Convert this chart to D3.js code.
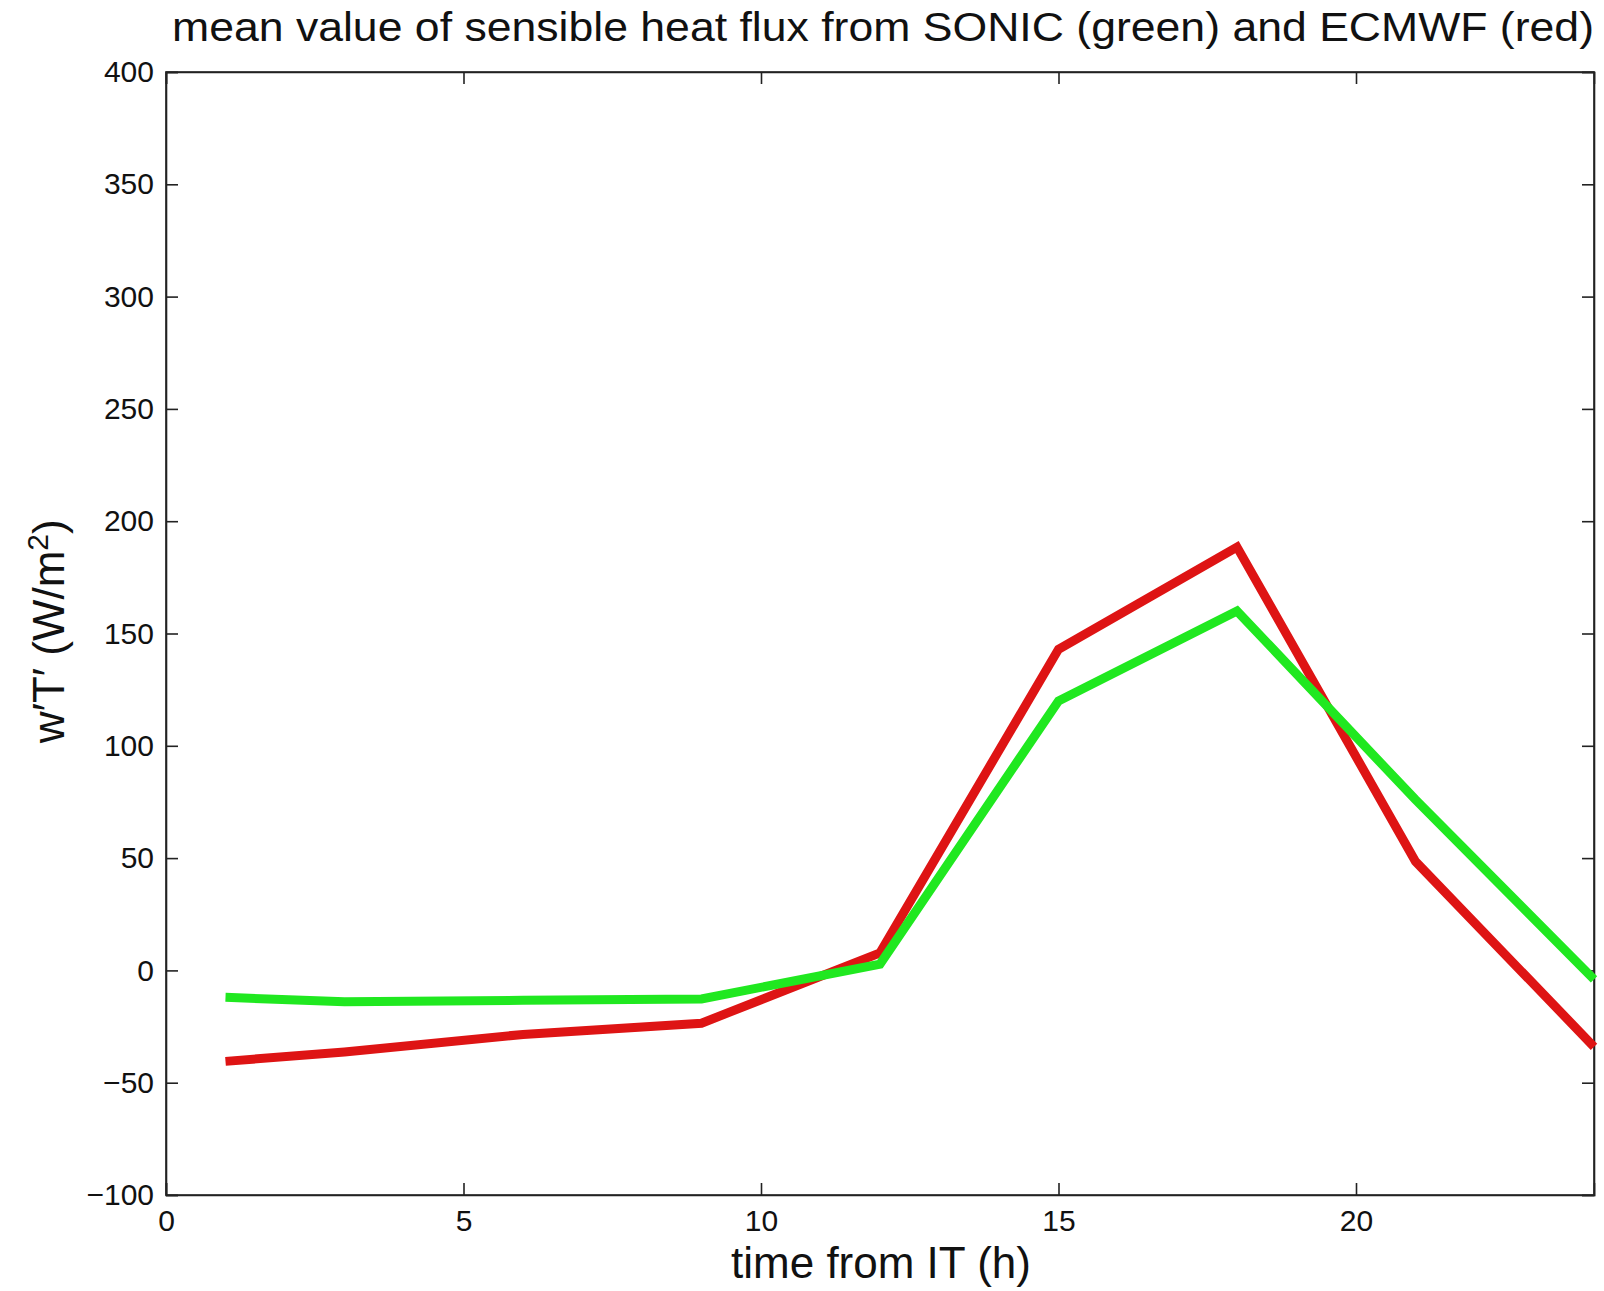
<!DOCTYPE html>
<html lang="en">
<head>
  <meta charset="UTF-8" />
  <title>Sensible heat flux</title>
  <script src="https://d3js.org/d3.v7.min.js"></script>
  <style>
    body { margin: 0; background: #fff; font-family: "Liberation Sans", Arial, sans-serif; }
    .axis text { font-family: "Liberation Sans", Arial, sans-serif; font-size: 30px; fill: #111; }
    .axis path, .axis line { stroke: #222; stroke-width: 1.6; }
  </style>
</head>
<body>
  <svg width="1604" height="1291"></svg>
  <script>
    // hours from initial time
    const hours = [1, 3, 6, 9, 12, 15, 18, 21, 24];
    const sonic = [-12, -14, -13.3, -12.7, 2.8, 120, 160, 76, -4];
    const ecmwf = [-40.5, -36.3, -28.5, -23.5, 7.8, 143, 188.5, 48.5, -34];
    const xTicks = [0, 5, 10, 15, 20];
    const yTicks = [-100, -50, 0, 50, 100, 150, 200, 250, 300, 350, 400];

    const svg = d3.select("svg");
    const margin = { top: 72, right: 10, bottom: 96, left: 166 };
    const width = +svg.attr("width") - margin.left - margin.right;
    const height = +svg.attr("height") - margin.top - margin.bottom;
    const chart = svg.append("g").attr("transform", `translate(${margin.left},${margin.top})`);

    const x = d3.scaleLinear().domain([0, 24]).range([0, width]);
    const y = d3.scaleLinear().domain([-100, 400]).range([height, 0]);
    const tickLen = 12;

    chart.append("rect")
      .attr("width", width).attr("height", height)
      .attr("fill", "none").attr("stroke", "#222").attr("stroke-width", 1.6);

    chart.append("g").attr("class", "axis")
      .attr("transform", `translate(0,${height})`)
      .call(d3.axisBottom(x).tickValues(xTicks).tickSize(-tickLen).tickPadding(15).tickFormat(d3.format("d")));
    chart.append("g").attr("class", "axis")
      .call(d3.axisTop(x).tickValues(xTicks).tickSize(-tickLen).tickFormat(""));
    chart.append("g").attr("class", "axis")
      .call(d3.axisLeft(y).tickValues(yTicks).tickSize(-tickLen).tickPadding(12).tickFormat(d3.format("d")));
    chart.append("g").attr("class", "axis")
      .attr("transform", `translate(${width},0)`)
      .call(d3.axisRight(y).tickValues(yTicks).tickSize(-tickLen).tickFormat(""));

    const line = d3.line().x((d, i) => x(hours[i])).y(d => y(d));
    chart.append("path").datum(ecmwf)
      .attr("d", line).attr("fill", "none")
      .attr("stroke", "#de1414").attr("stroke-width", 9).attr("stroke-linejoin", "miter");
    chart.append("path").datum(sonic)
      .attr("d", line).attr("fill", "none")
      .attr("stroke", "#20e820").attr("stroke-width", 9).attr("stroke-linejoin", "miter");

    svg.append("text")
      .attr("x", 172).attr("y", 41)
      .attr("textLength", 1422).attr("lengthAdjust", "spacingAndGlyphs")
      .style("font-size", "40px").style("fill", "#111")
      .text("mean value of sensible heat flux from SONIC (green) and ECMWF (red)");

    svg.append("text")
      .attr("x", 881).attr("y", 1278)
      .attr("text-anchor", "middle")
      .style("font-size", "44px").style("fill", "#111")
      .text("time from IT (h)");

    const yl = svg.append("text")
      .attr("transform", `translate(64,${margin.top + y(151)}) rotate(-90)`)
      .attr("text-anchor", "middle")
      .style("font-size", "44px").style("fill", "#111");
    yl.append("tspan").text("w′T′ (W/m");
    yl.append("tspan").attr("dy", -16).style("font-size", "30px").text("2");
    yl.append("tspan").attr("dy", 16).text(")");
  </script>
</body>
</html>
